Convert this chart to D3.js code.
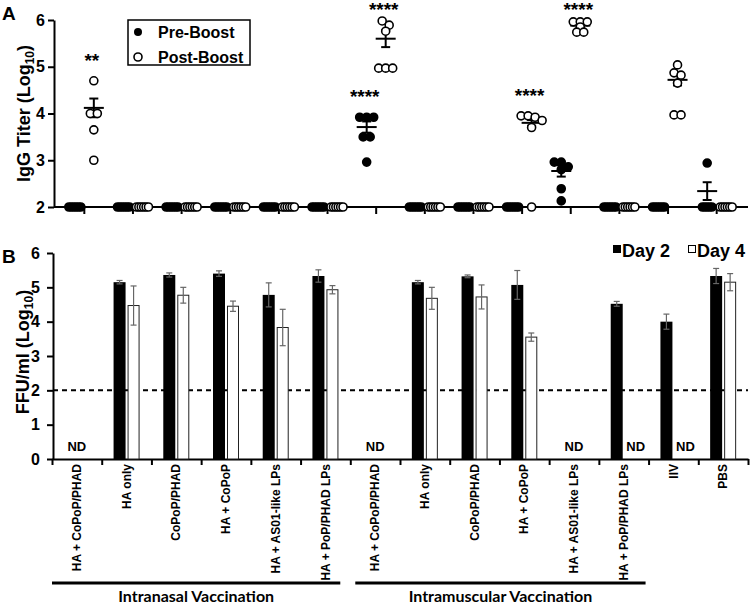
<!DOCTYPE html>
<html>
<head>
<meta charset="utf-8">
<script src="https://cdnjs.cloudflare.com/ajax/libs/d3/7.8.5/d3.min.js"></script>
<style>
body { margin: 0; background: #fff; }
svg { display: block; font-family: "Liberation Sans", Arial, sans-serif; }
</style>
</head>
<body>
<div id="chart"></div>
<script>
var FONT = "Liberation Sans, Arial, sans-serif"
var LOD = 2 // limit of detection in panel A

var categories = ["HA + CoPoP/PHAD", "HA only", "CoPoP/PHAD", "HA + CoPoP", "HA + AS01-like LPs", "HA + PoP/PHAD LPs",
  "HA + CoPoP/PHAD", "HA only", "CoPoP/PHAD", "HA + CoPoP", "HA + AS01-like LPs", "HA + PoP/PHAD LPs", "IIV", "PBS"]

// panel A, IgG titer per mouse (log10)
var preBoost = [
  [2, 2, 2, 2, 2, 2], [2, 2, 2, 2, 2, 2], [2, 2, 2, 2, 2, 2], [2, 2, 2, 2, 2, 2], [2, 2, 2, 2, 2, 2], [2, 2, 2, 2, 2, 2],
  [3.92, 3.92, 3.92, 3.5, 3.5, 2.96], [2, 2, 2, 2, 2, 2], [2, 2, 2, 2, 2, 2], [2, 2, 2, 2, 2, 2],
  [2.96, 2.96, 2.86, 2.8, 2.39, 2.13], [2, 2, 2, 2, 2, 2], [2, 2, 2, 2, 2, 2], [2.94, 2, 2, 2, 2, 2]
]
var postBoost = [
  [4.7, 4.0, 4.0, 3.65, 3.0], [2, 2, 2, 2, 2, 2], [2, 2, 2, 2, 2, 2], [2, 2, 2, 2, 2, 2], [2, 2, 2, 2, 2, 2], [2, 2, 2, 2, 2, 2],
  [5.98, 5.89, 5.76, 4.97, 4.97, 4.97], [2, 2, 2, 2, 2, 2], [2, 2, 2, 2, 2, 2],
  [3.95, 3.95, 3.92, 3.85, 3.7, 2], [5.96, 5.96, 5.96, 5.85, 5.74, 5.74], [2, 2, 2, 2, 2, 2],
  [5.04, 4.87, 4.82, 4.65, 3.97, 3.97], [2, 2, 2, 2, 2, 2]
]
var preMean = [null, null, null, null, null, null, 3.71, null, null, null, 2.77, null, null, 2.34]
var preSem = [0, 0, 0, 0, 0, 0, 0.12, 0, 0, 0, 0.12, 0, 0, 0.19]
var postMean = [4.12, null, null, null, null, null, 5.6, null, null, 3.8, 5.88, null, 4.72, null]
var postSem = [0.2, 0, 0, 0, 0, 0, 0.18, 0, 0, 0.06, 0.05, 0, 0.12, 0]

var starGroup = [0, 6, 6, 9, 10]
var starSeries = ["post", "pre", "post", "post", "post"]
var starText = ["**", "****", "****", "****", "****"]

// panel B, lung virus FFU/ml (log10), null = ND
var day2 = [null, 5.15, 5.36, 5.4, 4.78, 5.33, null, 5.15, 5.32, 5.07, null, 4.52, 4.0, 5.33]
var day2Err = [0, 0.05, 0.06, 0.08, 0.35, 0.18, 0, 0.05, 0.04, 0.42, 0, 0.07, 0.22, 0.22]
var day4 = [null, 4.47, 4.77, 4.45, 3.83, 4.93, null, 4.68, 4.72, 3.55, null, null, null, 5.15]
var day4Err = [0, 0.57, 0.23, 0.15, 0.53, 0.12, 0, 0.32, 0.35, 0.12, 0, 0, 0, 0.25]

var yTicksA = [2, 3, 4, 5, 6]
var yTicksB = [0, 1, 2, 3, 4, 5, 6]
var routes = ["Intranasal Vaccination", "Intramuscular Vaccination"]
var routeFirst = [0, 6], routeLast = [5, 11]

var svg = d3.select("#chart").append("svg").attr("width", 751).attr("height", 605)

function styleAxis(g){
  g.attr("font-family", FONT).attr("font-size", 16).attr("font-weight", "bold")
  g.select(".domain").attr("stroke-width", 2)
  g.selectAll(".tick line").attr("stroke-width", 2)
}

function logLabel(g, transform, main){
  var t = g.append("text").attr("transform", transform)
    .attr("text-anchor", "middle").attr("font-size", 18).attr("font-weight", "bold")
  t.append("tspan").text(main + " (Log")
  t.append("tspan").attr("font-size", 12).attr("dy", 4).text("10")
  t.append("tspan").attr("dy", -4).text(")")
}

// spread equal-ish values sideways like prism does
function swarm(vals, y){
  var sorted = vals.slice().sort(function(a, b){ return b - a }), rows = [], out = []
  sorted.forEach(function(v){
    var r = rows[rows.length - 1]
    if(r && Math.abs(y(r[0]) - y(v)) < 5) r.push(v)
    else rows.push([v])
  })
  rows.forEach(function(r){
    var sp = r[0] == LOD ? 2.4 : 7
    r.forEach(function(v, i){ out.push({v: v, dx: (i - (r.length - 1) / 2) * sp}) })
  })
  return out
}

/* ---------- panel A ---------- */
var xA = d3.scaleBand().domain(d3.range(categories.length)).range([60, 741])
var yA = d3.scaleLinear().domain([2, 6]).range([207, 20])
var offA = {pre: -9.5, post: 9.5}
function cxA(i, s){ return xA(i) + xA.bandwidth() / 2 + offA[s] }

var gA = svg.append("g")

gA.append("g").attr("transform", "translate(54,0)")
  .call(d3.axisLeft(yA).tickValues(yTicksA).tickFormat(d3.format("d")).tickSize(6).tickSizeOuter(0).tickPadding(3))
  .call(styleAxis)

gA.append("g").attr("transform", "translate(0,207)")
  .call(d3.axisBottom(xA).tickSize(7).tickSizeOuter(0).tickFormat(""))
  .call(styleAxis)
  .select(".domain").remove()
gA.append("line").attr("x1", 54).attr("x2", 748).attr("y1", yA(2)).attr("y2", yA(2))
  .attr("stroke", "#000").attr("stroke-width", 2)

logLabel(gA, "translate(30," + yA(4) + ") rotate(-90)", "IgG Titer")

gA.append("text").attr("x", 2).attr("y", 20).attr("font-size", 19).attr("font-weight", "bold").text("A")

// mean + sem
function meanBar(g, i, s, m, e){
  if(m == null) return
  var cx = cxA(i, s)
  g.append("line").attr("x1", cx - 10).attr("x2", cx + 10).attr("y1", yA(m)).attr("y2", yA(m))
  g.append("line").attr("x1", cx).attr("x2", cx).attr("y1", yA(m - e)).attr("y2", yA(m + e))
  g.append("line").attr("x1", cx - 4.5).attr("x2", cx + 4.5).attr("y1", yA(m - e)).attr("y2", yA(m - e))
  g.append("line").attr("x1", cx - 4.5).attr("x2", cx + 4.5).attr("y1", yA(m + e)).attr("y2", yA(m + e))
}
var gMean = gA.append("g").attr("stroke", "#000").attr("stroke-width", 2)
categories.forEach(function(c, i){
  meanBar(gMean, i, "pre", preMean[i], preSem[i])
  meanBar(gMean, i, "post", postMean[i], postSem[i])
})

var dots = []
categories.forEach(function(c, i){
  swarm(preBoost[i], yA).forEach(function(d){ dots.push({g: i, s: "pre", v: d.v, dx: d.dx}) })
  swarm(postBoost[i], yA).forEach(function(d){ dots.push({g: i, s: "post", v: d.v, dx: d.dx}) })
})
gA.selectAll("circle.dot").data(dots).enter().append("circle")
  .attr("class", "dot")
  .attr("cx", function(d){ return cxA(d.g, d.s) + d.dx })
  .attr("cy", function(d){ return yA(d.v) })
  .attr("r", 4)
  .attr("fill", function(d){ return d.s == "pre" ? "#000" : "#fff" })
  .attr("stroke", "#000").attr("stroke-width", 1.6)

gA.selectAll("text.star").data(starGroup).enter().append("text")
  .attr("class", "star")
  .attr("x", function(g, k){ return cxA(g, starSeries[k]) - 2 })
  .attr("y", function(g, k){
    var vals = starSeries[k] == "pre" ? preBoost[g] : postBoost[g]
    return Math.max(5, yA(d3.max(vals)) - 25) + 11
  })
  .attr("text-anchor", "middle").attr("font-size", 19).attr("font-weight", "bold")
  .text(function(g, k){ return starText[k] })

// legend A
var legA = gA.append("g").attr("transform", "translate(128,20)")
legA.append("rect").attr("width", 122).attr("height", 45).attr("fill", "#fff").attr("stroke", "#000").attr("stroke-width", 1.5)
legA.append("circle").attr("cx", 10).attr("cy", 12).attr("r", 4).attr("fill", "#000")
legA.append("circle").attr("cx", 10).attr("cy", 37).attr("r", 4).attr("fill", "#fff").attr("stroke", "#000").attr("stroke-width", 1.6)
legA.append("text").attr("x", 30).attr("y", 17.5).attr("font-size", 16).attr("font-weight", "bold").text("Pre-Boost")
legA.append("text").attr("x", 30).attr("y", 42.5).attr("font-size", 16).attr("font-weight", "bold").text("Post-Boost")

/* ---------- panel B ---------- */
var xB = d3.scaleBand().domain(d3.range(categories.length)).range([52, 748])
var xBt = d3.scaleLinear().domain([0, categories.length]).range([52, 748])
var yB = d3.scaleLinear().domain([0, 6]).range([459, 253])
function cB(i){ return xB(i) + xB.bandwidth() / 2 }

var gB = svg.append("g")

gB.append("g").attr("transform", "translate(53,0)")
  .call(d3.axisLeft(yB).tickValues(yTicksB).tickFormat(d3.format("d")).tickSize(6).tickSizeOuter(0).tickPadding(7))
  .call(styleAxis)

gB.append("g").attr("transform", "translate(0," + yB(0) + ")")
  .call(d3.axisBottom(xBt).tickValues(d3.range(categories.length + 1)).tickSize(6).tickSizeOuter(0).tickFormat(""))
  .call(styleAxis)

gB.append("line").attr("x1", 53).attr("x2", 748).attr("y1", yB(2)).attr("y2", yB(2))
  .attr("stroke", "#000").attr("stroke-width", 2).attr("stroke-dasharray", "5,4")

logLabel(gB, "translate(29,352) rotate(-90)", "FFU/ml")

gB.append("text").attr("x", 2).attr("y", 263).attr("font-size", 19).attr("font-weight", "bold").text("B")

var bars = gB.append("g")

day2.forEach(function(v, i){
  if(v == null) return
  var x = cB(i) - 13
  bars.append("rect").attr("x", x).attr("y", yB(v)).attr("width", 12).attr("height", yB(0) - yB(v)).attr("fill", "#000")
})
day4.forEach(function(v, i){
  if(v == null) return
  var x = cB(i) + 1.5
  bars.append("rect").attr("x", x).attr("y", yB(v)).attr("width", 11).attr("height", yB(0) - yB(v))
    .attr("fill", "#fff").attr("stroke", "#222").attr("stroke-width", 1)
})

function errB(cx, v, e){
  var g = bars.append("g").attr("stroke", "#666").attr("stroke-width", 1.2)
  g.append("line").attr("x1", cx).attr("x2", cx).attr("y1", yB(v - e)).attr("y2", yB(v + e))
  g.append("line").attr("x1", cx - 3).attr("x2", cx + 3).attr("y1", yB(v - e)).attr("y2", yB(v - e))
  g.append("line").attr("x1", cx - 3).attr("x2", cx + 3).attr("y1", yB(v + e)).attr("y2", yB(v + e))
}
categories.forEach(function(c, i){
  if(day2[i] != null) errB(cB(i) - 7, day2[i], day2Err[i])
  if(day4[i] != null) errB(cB(i) + 7, day4[i], day4Err[i])
})

// ND marks
categories.forEach(function(c, i){
  var x = null
  if(day2[i] == null && day4[i] == null) x = cB(i)
  else if(day4[i] == null) x = cB(i) + 12
  if(x == null) return
  gB.append("text").attr("x", x).attr("y", 451).attr("text-anchor", "middle")
    .attr("font-size", 13).attr("font-weight", "bold").text("ND")
})

// legend B
var legB = gB.append("g").attr("transform", "translate(613,245)")
legB.append("rect").attr("width", 8).attr("height", 8).attr("fill", "#000")
legB.append("text").attr("x", 9).attr("y", 12).attr("font-size", 18).attr("font-weight", "bold").text("Day 2")
legB.append("rect").attr("x", 75.5).attr("y", 0.5).attr("width", 7).attr("height", 7).attr("fill", "#fff").attr("stroke", "#000")
legB.append("text").attr("x", 84).attr("y", 12).attr("font-size", 18).attr("font-weight", "bold").text("Day 4")

// category labels
gB.selectAll("text.cat").data(categories).enter().append("text")
  .attr("class", "cat")
  .attr("transform", function(d, i){ return "translate(" + cB(i) + ",464) rotate(-90)" })
  .attr("dy", "0.35em").attr("text-anchor", "end")
  .attr("font-size", 12).attr("font-weight", "bold")
  .text(function(d){ return d })

// route brackets
routes.forEach(function(r, k){
  var x1 = xB(routeFirst[k]) + (k == 0 ? 0 : 5),
      x2 = xB(routeLast[k]) + xB.bandwidth() - (k == 0 ? 10 : 3)
  gB.append("line").attr("x1", x1).attr("x2", x2).attr("y1", 583).attr("y2", 583)
    .attr("stroke", "#000").attr("stroke-width", 3)
  gB.append("text").attr("x", (x1 + x2) / 2).attr("y", 602).attr("text-anchor", "middle")
    .attr("font-family", "Lato, Open Sans, sans-serif").attr("font-size", 16).attr("font-weight", "bold")
    .text(r)
})
</script>
</body>
</html>
